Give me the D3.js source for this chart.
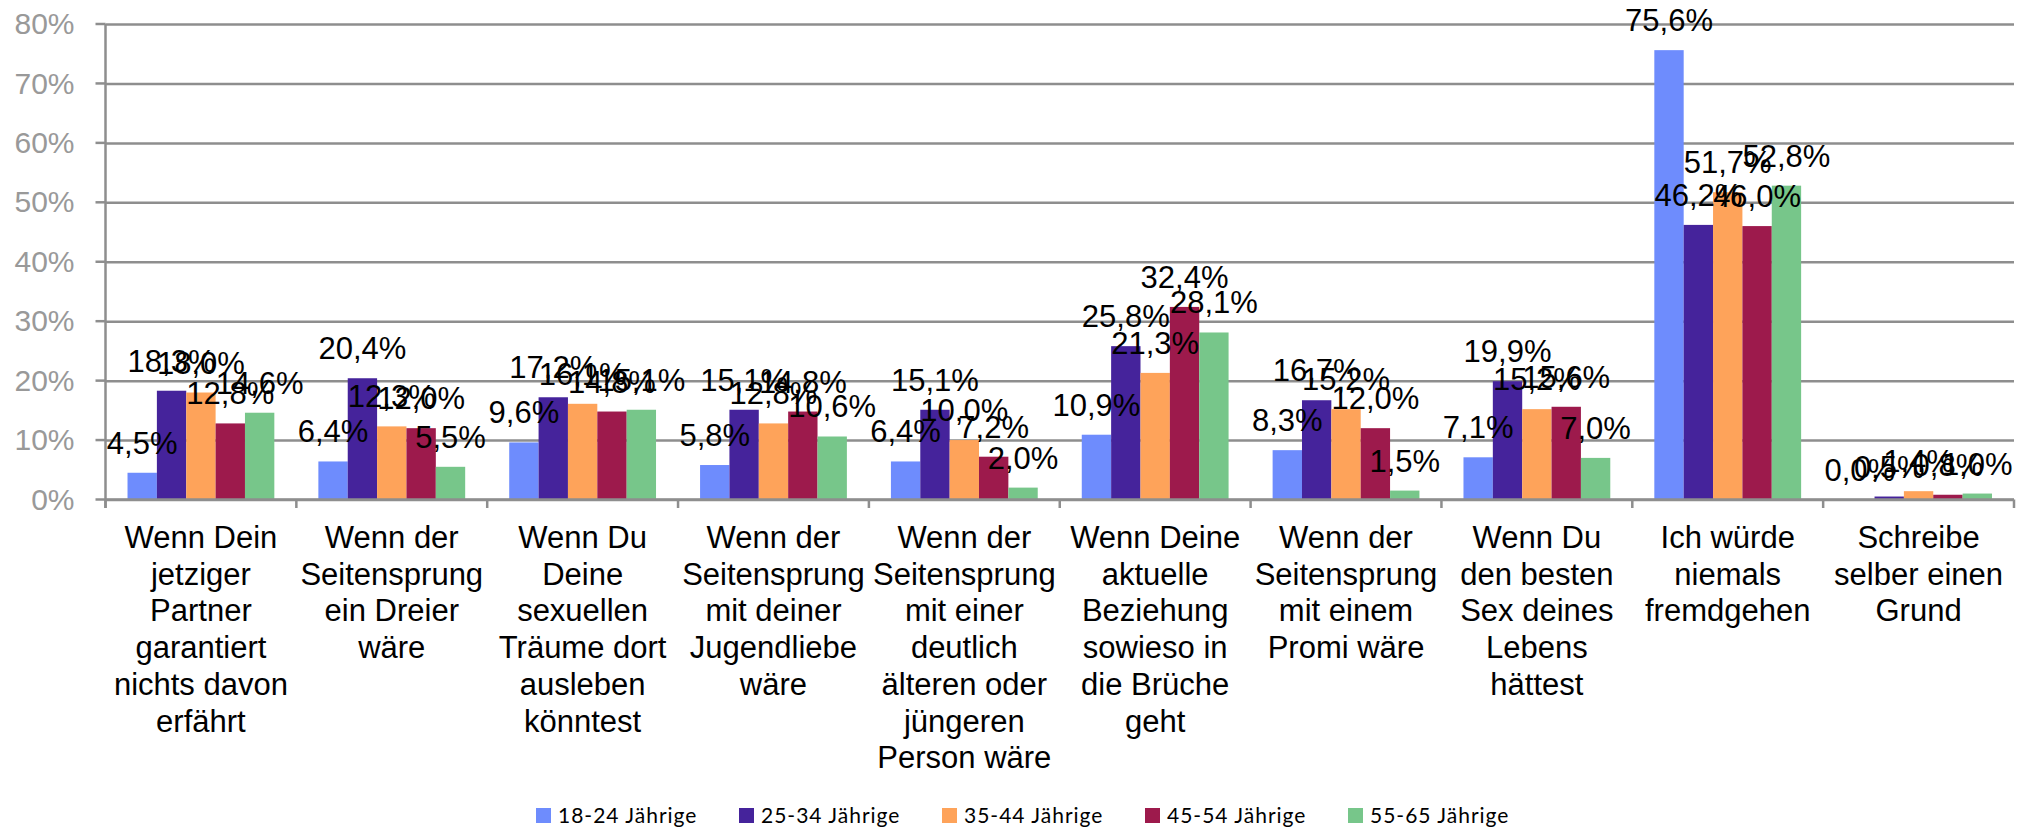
<!DOCTYPE html>
<html>
<head>
<meta charset="utf-8">
<script src="https://cdn.jsdelivr.net/npm/d3@7"></script>
<style>
    body { margin: 0; background: #fff; }
    svg { display: block; }
</style>
</head>
<body>
<div id="chart"></div>
<script>
// categories, one entry per wrapped line as in the original
const categories = [
    ["Wenn Dein", "jetziger", "Partner", "garantiert", "nichts davon", "erfährt"],
    ["Wenn der", "Seitensprung", "ein Dreier", "wäre"],
    ["Wenn Du", "Deine", "sexuellen", "Träume dort", "ausleben", "könntest"],
    ["Wenn der", "Seitensprung", "mit deiner", "Jugendliebe", "wäre"],
    ["Wenn der", "Seitensprung", "mit einer", "deutlich", "älteren oder", "jüngeren", "Person wäre"],
    ["Wenn Deine", "aktuelle", "Beziehung", "sowieso in", "die Brüche", "geht"],
    ["Wenn der", "Seitensprung", "mit einem", "Promi wäre"],
    ["Wenn Du", "den besten", "Sex deines", "Lebens", "hättest"],
    ["Ich würde", "niemals", "fremdgehen"],
    ["Schreibe", "selber einen", "Grund"]
]

const seriesNames = ["18-24 Jährige", "25-34 Jährige", "35-44 Jährige", "45-54 Jährige", "55-65 Jährige"]
const seriesColors = ["#6e8cfd", "#45239b", "#fea35a", "#9d1a4c", "#77c68a"]

const age18_24 = [4.5, 6.4, 9.6, 5.8, 6.4, 10.9, 8.3, 7.1, 75.6, 0.0]
const age25_34 = [18.3, 20.4, 17.2, 15.1, 15.1, 25.8, 16.7, 19.9, 46.2, 0.5]
const age35_44 = [18.0, 12.3, 16.1, 12.8, 10.0, 21.3, 15.2, 15.2, 51.7, 1.4]
const age45_54 = [12.8, 12.0, 14.8, 14.8, 7.2, 32.4, 12.0, 15.6, 46.0, 0.8]
const age55_65 = [14.6, 5.5, 15.1, 10.6, 2.0, 28.1, 1.5, 7.0, 52.8, 1.0]

const yTicks = [0, 10, 20, 30, 40, 50, 60, 70, 80]

const drawChart = () => {
    const seriesValues = [age18_24, age25_34, age35_44, age45_54, age55_65]

    // flat list of bars
    const data = []
    categories.forEach((c, ci) => {
        seriesNames.forEach((s, si) => {
            data.push({ cat: ci, series: s, color: seriesColors[si], value: seriesValues[si][ci] })
        })
    })

    const width = 2024,
        height = 829;
    const margin = ({ top: 24, right: 10, bottom: 330, left: 105.5 })
    const plotBottom = height - margin.bottom

    const svg = d3.select("#chart").append("svg")
        .attr("width", width)
        .attr("height", height)

    const x = d3.scaleBand()
        .domain(d3.range(categories.length))
        .range([margin.left, width - margin.right])

    const xInner = d3.scaleBand()
        .domain(seriesNames)
        .range([0, x.bandwidth()])
        .paddingOuter(0.75)

    const y = d3.scaleLinear()
        .domain([0, 80])
        .range([plotBottom + 0.5, margin.top])

    const lineColor = "#8e8e8e"

    // gridlines + y labels
    svg.append("g")
        .attr("transform", `translate(${margin.left},0)`)
        .call(d3.axisLeft(y).tickValues(yTicks).tickFormat(d => d + "%")
            .tickSizeInner(-(width - margin.right - margin.left)).tickSizeOuter(0).tickPadding(31))
        .call(g => g.select(".domain").remove())
        .call(g => g.selectAll(".tick line").attr("stroke", lineColor).attr("stroke-width", 2.5))
        .call(g => g.selectAll(".tick text")
            .attr("fill", "#999")
            .style("font-family", "'Liberation Sans', Arial, sans-serif")
            .style("font-size", "30px"))

    // little left tick stubs
    svg.append("g")
        .selectAll("line")
        .data(yTicks)
        .join("line")
        .attr("x1", margin.left - 10)
        .attr("x2", margin.left)
        .attr("y1", d => y(d))
        .attr("y2", d => y(d))
        .attr("stroke", lineColor)
        .attr("stroke-width", 2.5)

    // y axis line
    svg.append("line")
        .attr("x1", margin.left).attr("x2", margin.left)
        .attr("y1", y(80)).attr("y2", plotBottom + 9)
        .attr("stroke", lineColor).attr("stroke-width", 2.5)

    // category separators
    const seps = d3.range(categories.length + 1).map(i => margin.left + i * x.step())
    svg.append("g")
        .selectAll("line")
        .data(seps)
        .join("line")
        .attr("x1", d => d).attr("x2", d => d)
        .attr("y1", y(0)).attr("y2", plotBottom + 9)
        .attr("stroke", lineColor).attr("stroke-width", 2.5)

    // bars
    svg.append("g")
        .selectAll("rect")
        .data(data)
        .join("rect")
        .attr("x", d => x(d.cat) + xInner(d.series))
        .attr("y", d => y(d.value))
        .attr("width", xInner.bandwidth())
        .attr("height", d => y(0) - y(d.value))
        .attr("fill", d => d.color)

    // x axis line on top of bars
    svg.append("line")
        .attr("x1", margin.left).attr("x2", width - margin.right)
        .attr("y1", y(0)).attr("y2", y(0))
        .attr("stroke", lineColor).attr("stroke-width", 2.5)

    // value labels
    svg.append("g")
        .selectAll("text")
        .data(data)
        .join("text")
        .attr("x", d => x(d.cat) + xInner(d.series) + xInner.bandwidth() / 2)
        .attr("y", d => y(d.value) - 19)
        .attr("text-anchor", "middle")
        .style("font-family", "'Liberation Sans', Arial, sans-serif")
        .style("font-size", "31px")
        .attr("fill", "#000")
        .text(d => d3.format(".1f")(d.value).replace(".", ",") + "%")

    // category labels
    const catLabels = svg.append("g")
        .selectAll("text")
        .data(categories)
        .join("text")
        .attr("x", (d, i) => x(i) + x.bandwidth() / 2)
        .attr("y", 548)
        .attr("text-anchor", "middle")
        .style("font-family", "'Liberation Sans', Arial, sans-serif")
        .style("font-size", "31px")
        .attr("fill", "#000")

    catLabels.selectAll("tspan")
        .data(d => d)
        .join("tspan")
        .attr("x", function () { return d3.select(this.parentNode).attr("x") })
        .attr("dy", (d, i) => i === 0 ? 0 : 36.7)
        .text(d => d)

    // legend
    const legend = svg.append("g")
        .selectAll("g")
        .data(seriesNames)
        .join("g")
        .attr("transform", (d, i) => `translate(${536 + i * 203},808)`)

    legend.append("rect")
        .attr("width", 15)
        .attr("height", 15)
        .attr("fill", (d, i) => seriesColors[i])

    legend.append("text")
        .attr("x", 22)
        .attr("y", 15)
        .style("font-family", "Lato, sans-serif")
        .style("font-size", "21px")
        .style("letter-spacing", "1px")
        .attr("fill", "#000")
        .text(d => d)
}

drawChart()
</script>
</body>
</html>
